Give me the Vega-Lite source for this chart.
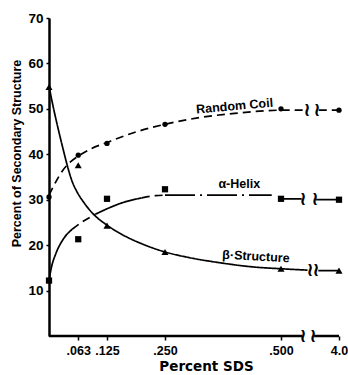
{
  "$schema": "https://vega.github.io/schema/vega-lite/v6.json",
  "width": 290,
  "height": 318,
  "autosize": {"type": "none"},
  "padding": {"left": 49, "top": 18, "right": 9, "bottom": 39},
  "background": "white",
  "config": {
    "view": {"stroke": null},
    "font": "Liberation Sans",
    "text": {"font": "Liberation Sans", "fontWeight": "bold", "color": "black"}
  },
  "datasets": {
    "points": [
      {"series": "Random Coil", "x": 0, "y": 30.6},
      {"series": "Random Coil", "x": 0.063, "y": 39.8},
      {"series": "Random Coil", "x": 0.125, "y": 42.4},
      {"series": "Random Coil", "x": 0.25, "y": 46.6},
      {"series": "Random Coil", "x": 0.5, "y": 50.0},
      {"series": "Random Coil", "x": 4.0, "y": 49.7},
      {"series": "α-Helix", "x": 0, "y": 12.2},
      {"series": "α-Helix", "x": 0.063, "y": 21.3},
      {"series": "α-Helix", "x": 0.125, "y": 30.2},
      {"series": "α-Helix", "x": 0.25, "y": 32.3},
      {"series": "α-Helix", "x": 0.5, "y": 30.2},
      {"series": "α-Helix", "x": 4.0, "y": 30.0},
      {"series": "β-Structure", "x": 0, "y": 54.8},
      {"series": "β-Structure", "x": 0.063, "y": 37.6},
      {"series": "β-Structure", "x": 0.125, "y": 24.3},
      {"series": "β-Structure", "x": 0.25, "y": 18.5},
      {"series": "β-Structure", "x": 0.5, "y": 14.8},
      {"series": "β-Structure", "x": 4.0, "y": 14.4}
    ],
    "curves": [
      {"seg": "rc1", "style": "dash", "x": 0, "y": 31.0},
      {"seg": "rc1", "style": "dash", "x": 0.015, "y": 34.0},
      {"seg": "rc1", "style": "dash", "x": 0.03, "y": 36.5},
      {"seg": "rc1", "style": "dash", "x": 0.045, "y": 38.2},
      {"seg": "rc1", "style": "dash", "x": 0.063, "y": 39.6},
      {"seg": "rc1", "style": "dash", "x": 0.09, "y": 41.2},
      {"seg": "rc1", "style": "dash", "x": 0.125, "y": 42.6},
      {"seg": "rc1", "style": "dash", "x": 0.19, "y": 45.0},
      {"seg": "rc1", "style": "dash", "x": 0.25, "y": 46.6},
      {"seg": "rc1", "style": "dash", "x": 0.32, "y": 48.0},
      {"seg": "rc1", "style": "dash", "x": 0.4, "y": 49.0},
      {"seg": "rc1", "style": "dash", "x": 0.5, "y": 49.7},
      {"seg": "rc1", "style": "dash", "x": 1.95, "y": 49.7},
      {"seg": "rc2", "style": "dash", "x": 2.78, "y": 49.7},
      {"seg": "rc2", "style": "dash", "x": 4.0, "y": 49.7},
      {"seg": "h1", "style": "solid", "x": 0, "y": 12.2},
      {"seg": "h1", "style": "solid", "x": 0.005, "y": 15.0},
      {"seg": "h1", "style": "solid", "x": 0.015, "y": 18.2},
      {"seg": "h1", "style": "solid", "x": 0.03, "y": 21.2},
      {"seg": "h1", "style": "solid", "x": 0.05, "y": 23.5},
      {"seg": "h2", "style": "dash", "x": 0.05, "y": 23.5},
      {"seg": "h2", "style": "dash", "x": 0.07, "y": 25.0},
      {"seg": "h2", "style": "dash", "x": 0.1, "y": 26.8},
      {"seg": "h3", "style": "solid", "x": 0.1, "y": 26.8},
      {"seg": "h3", "style": "solid", "x": 0.125, "y": 28.0},
      {"seg": "h3", "style": "solid", "x": 0.16, "y": 29.4},
      {"seg": "h3", "style": "solid", "x": 0.2, "y": 30.4},
      {"seg": "h4", "style": "dash", "x": 0.2, "y": 30.4},
      {"seg": "h4", "style": "dash", "x": 0.23, "y": 30.9},
      {"seg": "h4", "style": "dash", "x": 0.25, "y": 31.0},
      {"seg": "h5", "style": "dashdot", "x": 0.25, "y": 31.0},
      {"seg": "h5", "style": "dashdot", "x": 0.48, "y": 31.0},
      {"seg": "h6", "style": "solid", "x": 0.5, "y": 30.2},
      {"seg": "h6", "style": "solid", "x": 1.75, "y": 30.2},
      {"seg": "h7", "style": "solid", "x": 2.62, "y": 30.0},
      {"seg": "h7", "style": "solid", "x": 4.0, "y": 30.0},
      {"seg": "b1", "style": "solid", "x": 0, "y": 55.0},
      {"seg": "b1", "style": "solid", "x": 0.01, "y": 50.0},
      {"seg": "b1", "style": "solid", "x": 0.02, "y": 45.5},
      {"seg": "b1", "style": "solid", "x": 0.03, "y": 41.3},
      {"seg": "b1", "style": "solid", "x": 0.04, "y": 37.3},
      {"seg": "b1", "style": "solid", "x": 0.05, "y": 34.0},
      {"seg": "b1", "style": "solid", "x": 0.06, "y": 31.8},
      {"seg": "b1", "style": "solid", "x": 0.075, "y": 29.4},
      {"seg": "b1", "style": "solid", "x": 0.095, "y": 26.9},
      {"seg": "b1", "style": "solid", "x": 0.125, "y": 24.4},
      {"seg": "b1", "style": "solid", "x": 0.16, "y": 22.2},
      {"seg": "b1", "style": "solid", "x": 0.2, "y": 20.3},
      {"seg": "b1", "style": "solid", "x": 0.25, "y": 18.5},
      {"seg": "b1", "style": "solid", "x": 0.3, "y": 17.3},
      {"seg": "b1", "style": "solid", "x": 0.37, "y": 16.1},
      {"seg": "b1", "style": "solid", "x": 0.44, "y": 15.2},
      {"seg": "b1", "style": "solid", "x": 0.5, "y": 14.8},
      {"seg": "b1", "style": "solid", "x": 2.1, "y": 14.5},
      {"seg": "b2", "style": "solid", "x": 2.75, "y": 14.4},
      {"seg": "b2", "style": "solid", "x": 4.0, "y": 14.4}
    ],
    "axisline": [
      {"x": 0, "x2": 1.78, "y": 0},
      {"x": 2.5, "x2": 4.0, "y": 0}
    ],
    "breaks": [
      {"x": 2.07, "y": 49.7},
      {"x": 2.67, "y": 49.7},
      {"x": 1.83, "y": 30.2},
      {"x": 2.55, "y": 30.2},
      {"x": 2.25, "y": 14.5},
      {"x": 2.62, "y": 14.5},
      {"x": 1.83, "y": 0},
      {"x": 2.43, "y": 0}
    ],
    "labels": [
      {"label": "Random Coil", "x": 0.40, "y": 50.6, "angle": -5},
      {"label": "α-Helix", "x": 0.41, "y": 33.4, "angle": 0},
      {"label": "β·Structure", "x": 0.446, "y": 17.5, "angle": 3}
    ]
  },
  "encoding": {
    "x": {
      "field": "x",
      "type": "quantitative",
      "scale": {"domain": [0, 0.5, 4.0], "range": [0, 232, 290]},
      "axis": {
        "values": [0.063, 0.125, 0.25, 0.5, 4.0],
        "labelExpr": "datum.value == 4 ? '4.0' : substring(format(datum.value, '.3f'), 1)",
        "domain": false,
        "grid": false,
        "tickColor": "black",
        "tickSize": 4,
        "tickWidth": 1.5,
        "labelFont": "Liberation Sans",
        "labelFontWeight": "bold",
        "labelFontSize": 12.5,
        "labelColor": "black",
        "labelPadding": 4,
        "labelFlush": false,
        "labelOverlap": false,
        "title": "Percent SDS",
        "titleFont": "DejaVu Sans",
        "titleFontWeight": "bold",
        "titleFontSize": 13.5,
        "titleColor": "black",
        "titlePadding": 3,
        "titleX": 157
      }
    },
    "y": {
      "field": "y",
      "type": "quantitative",
      "scale": {"domain": [0, 70]},
      "axis": {
        "values": [10, 20, 30, 40, 50, 60, 70],
        "domainColor": "black",
        "domainWidth": 2.5,
        "grid": false,
        "tickColor": "black",
        "tickSize": 3,
        "tickWidth": 1.5,
        "labelFont": "Liberation Sans",
        "labelFontWeight": "bold",
        "labelFontSize": 13.5,
        "labelColor": "black",
        "labelPadding": 3,
        "title": "Percent of Secondary Structure",
        "titleFont": "Liberation Sans",
        "titleFontWeight": "bold",
        "titleFontSize": 12.5,
        "titleColor": "black",
        "titleY": 135,
        "titleX": -26
      }
    }
  },
  "layer": [
    {
      "data": {"name": "axisline"},
      "mark": {"type": "rule", "color": "black", "strokeWidth": 2.5},
      "encoding": {"x2": {"field": "x2"}}
    },
    {
      "data": {"name": "curves"},
      "mark": {"type": "line", "color": "black", "strokeWidth": 1.7, "interpolate": "monotone"},
      "encoding": {
        "detail": {"field": "seg", "type": "nominal"},
        "strokeDash": {
          "field": "style",
          "type": "nominal",
          "scale": {"domain": ["solid", "dash", "dashdot"], "range": [[1, 0], [8, 5], [30, 5, 2, 5]]},
          "legend": null
        }
      }
    },
    {
      "data": {"name": "points"},
      "mark": {"type": "point", "filled": true, "color": "black", "opacity": 1},
      "encoding": {
        "shape": {
          "field": "series",
          "type": "nominal",
          "scale": {"domain": ["Random Coil", "α-Helix", "β-Structure"], "range": ["circle", "square", "triangle-up"]},
          "legend": null
        },
        "size": {
          "field": "series",
          "type": "nominal",
          "scale": {"domain": ["Random Coil", "α-Helix", "β-Structure"], "range": [28, 50, 40]},
          "legend": null
        }
      }
    },
    {
      "data": {"name": "breaks"},
      "mark": {"type": "text", "text": "≀", "fontSize": 19, "font": "DejaVu Sans", "fontWeight": "bold", "baseline": "middle", "align": "center"},
      "encoding": {}
    },
    {
      "data": {"name": "labels"},
      "mark": {"type": "text", "fontSize": 12.5, "baseline": "middle", "align": "center"},
      "encoding": {
        "text": {"field": "label"},
        "angle": {"field": "angle", "type": "quantitative", "scale": null}
      }
    }
  ]
}
